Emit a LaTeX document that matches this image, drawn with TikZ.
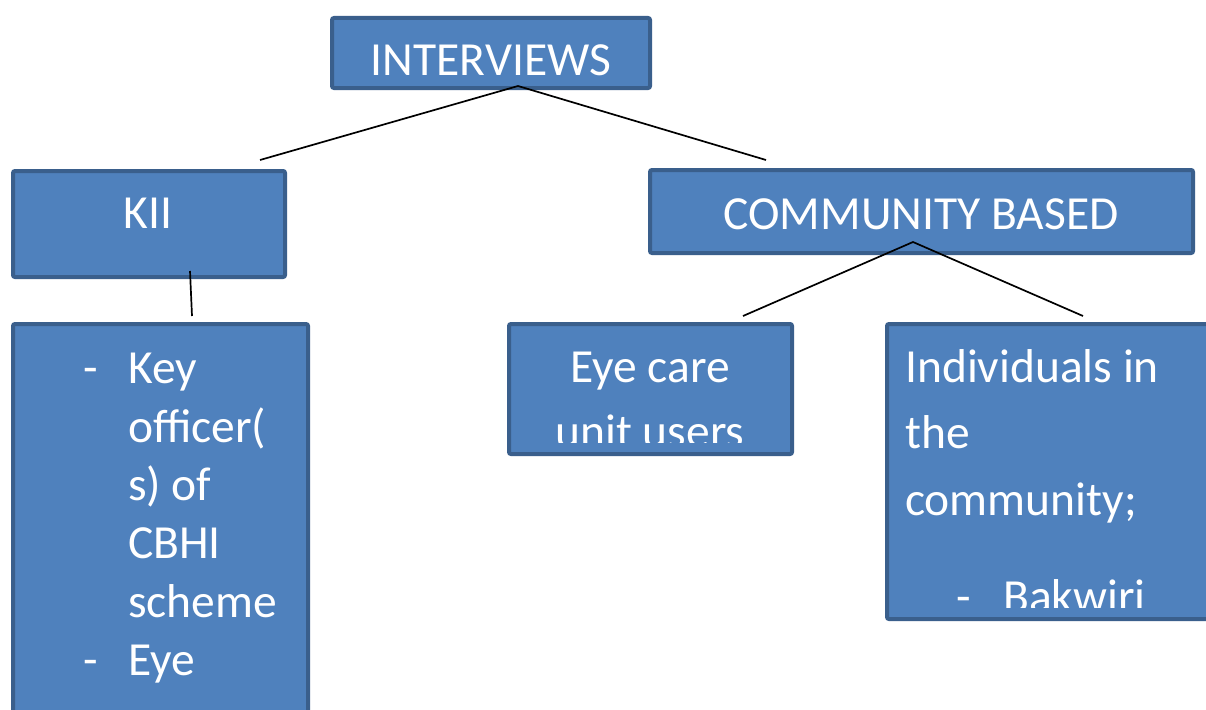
\documentclass[tikz,border=0pt]{standalone}
\usepackage{fontspec}
\setmainfont{Carlito}
\definecolor{boxfill}{HTML}{4F81BD}
\definecolor{boxline}{HTML}{3A5F8C}
\tikzset{
  boxnode/.style={draw=boxline, fill=boxfill, line width=4pt, rounded corners=2pt, inner sep=0pt, anchor=north west},
  txt/.style={text=white, font=\fontsize{47.5}{58}\selectfont, inner sep=0pt, anchor=base},
  txtw/.style={txt, anchor=base west},
  conn/.style={black, line width=1.7pt},
}
\begin{document}
\begin{tikzpicture}[x=1pt,y=-1pt]
\clip (0,0) rectangle (1206,709);
\fill[white] (0,0) rectangle (1206,709);
% boxes
\node[boxnode, minimum width=318pt, minimum height=70pt] (iv) at (330,16) {};
\node[boxnode, minimum width=272pt, minimum height=106pt] (kii) at (11,169) {};
\node[boxnode, minimum width=543pt, minimum height=83pt] (cb) at (648,168) {};
\node[boxnode, minimum width=295pt, minimum height=420pt] (ko) at (11,322) {};
\node[boxnode, minimum width=283pt, minimum height=130pt] (eye) at (507,322) {};
\node[boxnode, minimum width=340pt, minimum height=295pt] (ind) at (885,322) {};
% texts
\node[txt] (tiv) at (491,75) {INTERVIEWS};
\node[txt] (tkii) at (148,228) {KII};
\node[txt] (tcb) at (921,229) {COMMUNITY BASED};
\node[txtw] (kd1) at (83,383) {-};
\node[txtw] (k1) at (128,383) {Key};
\node[txtw] (k2) at (128,442) {officer(};
\node[txtw] (k3) at (128,500) {s) of};
\node[txtw] (k4) at (128,558) {CBHI};
\node[txtw] (k5) at (128,617) {scheme};
\node[txtw] (kd2) at (83,675) {-};
\node[txtw] (k6) at (128,675) {Eye};
\begin{scope}
\clip (507,322) rectangle (792,442);
\node[txt] (e1) at (650,382) {Eye care};
\node[txt] (e2) at (650,447) {unit users};
\end{scope}
\begin{scope}
\clip (885,322) rectangle (1206,607);
\node[txtw] (i1) at (905,382) {Individuals in};
\node[txtw] (i2) at (905,448) {the};
\node[txtw] (i3) at (905,515) {community;};
\node[txtw] (id) at (956,612) {-};
\node[txtw] (i4) at (1003,612) {Bakwiri};
\end{scope}
% connectors
\coordinate (ivA) at (518,86);
\coordinate (ivL) at (260,160);
\coordinate (ivR) at (766,160);
\coordinate (kiiA) at (190,271);
\coordinate (kiiB) at (192,316);
\coordinate (cbA) at (913,242);
\coordinate (cbL) at (743,316);
\coordinate (cbR) at (1083,316);
\draw[conn] (ivL) -- (ivA) -- (ivR);
\draw[conn] (kiiA) -- (kiiB);
\draw[conn] (cbL) -- (cbA) -- (cbR);
\end{tikzpicture}
\end{document}
